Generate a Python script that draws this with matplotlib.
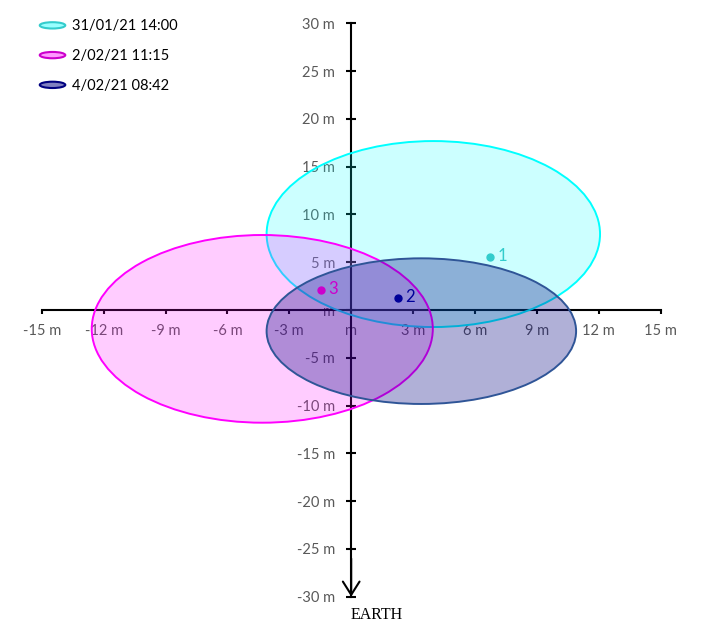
""" Position uncertainty ellipses for three fixes.
"""

import matplotlib
matplotlib.use('Agg')
import matplotlib.pyplot as plt
from matplotlib.patches import Ellipse, Patch
from matplotlib.legend_handler import HandlerPatch
from matplotlib.ticker import FuncFormatter, MultipleLocator


# uncertainty ellipses per fix, in metres (centre, full width, full height)
labels = ['31/01/21 14:00', '2/02/21 11:15', '4/02/21 08:42']
ell_x = [3.98, -4.31, 3.40]
ell_y = [7.95, -1.97, -2.21]
ell_w = [16.16, 16.53, 15.0]
ell_h = [19.46, 19.64, 15.24]

# numbered points
point_names = ['1', '2', '3']
point_x = [6.73, 2.25, -1.48]
point_y = [5.58, 1.29, 2.09]

edge_colors = ['#00FFFF', '#FF00FF', '#2F5597']
face_colors = [(0, 1, 1, 0.2), (1, 0, 1, 0.2), (0, 0, 0.5, 0.31)]
legend_edges = ['#33CCCC', '#CC00CC', '#000080']
legend_faces = ['#99FFFF', '#FF99FF', '#8080C0']
point_colors = ['#33CCCC', '#000099', '#CC00CC']

TICK_GREY = '#595959'


class HandlerEllipse(HandlerPatch):
    """ draw an ellipse as legend key """
    def create_artists(self, legend, orig_handle, xdescent, ydescent,
                       width, height, fontsize, trans):
        center = 0.5 * width - 0.5 * xdescent, 0.5 * height - 0.5 * ydescent
        patch = Ellipse(xy=center, width=width, height=height * 0.62)
        self.update_prop(patch, orig_handle, legend)
        patch.set_transform(trans)
        return [patch]


def metres(val, _pos):
    if abs(val) < 1e-9:
        return 'm'
    return f'{val:g} m'


plt.rcParams['font.family'] = ['Lato', 'DejaVu Sans']

fig = plt.figure(figsize=(7.01, 6.34), dpi=100)
ax = fig.add_axes([0.0595, 0.0588, 0.883, 0.9044])
ax.set_xlim(-15, 15)
ax.set_ylim(-30, 30)
ax.set_axisbelow(True)

for side in ('top', 'right'):
    ax.spines[side].set_visible(False)
ax.spines['left'].set_position('zero')
ax.spines['bottom'].set_position('zero')
for side in ('left', 'bottom'):
    ax.spines[side].set_linewidth(1.5)
    ax.spines[side].set_zorder(0.6)

ax.xaxis.set_major_locator(MultipleLocator(3))
ax.yaxis.set_major_locator(MultipleLocator(5))
ax.xaxis.set_major_formatter(FuncFormatter(metres))
ax.yaxis.set_major_formatter(FuncFormatter(metres))
ax.tick_params(axis='x', direction='out', length=3, width=1.5,
               pad=7, labelsize=10.5, labelcolor=TICK_GREY)
ax.tick_params(axis='y', direction='inout', length=7.5, width=1.5,
               pad=8, labelsize=10.5, labelcolor=TICK_GREY)

for i in range(len(labels)):
    ax.add_patch(Ellipse((ell_x[i], ell_y[i]), ell_w[i], ell_h[i],
                         facecolor=face_colors[i], edgecolor=edge_colors[i],
                         linewidth=1.4, zorder=3))

for i, name in enumerate(point_names):
    ax.plot(point_x[i], point_y[i], 'o', color=point_colors[i],
            markersize=5, zorder=5)
    ax.annotate(name, (point_x[i], point_y[i]), xytext=(5.5, 0.5),
                textcoords='offset points', ha='left', va='center',
                color=point_colors[i], fontsize=12, zorder=6)

# arrow pointing to earth
ax.annotate('', xy=(0, -30), xytext=(0, -26),
            arrowprops=dict(arrowstyle='->,head_length=0.95,head_width=0.6',
                            color='black', lw=1.5, shrinkA=0, shrinkB=0,
                            mutation_scale=10),
            annotation_clip=False)
ax.text(1.25, -31.9, 'EARTH', ha='center', va='center',
        family='Liberation Serif', fontsize=11.5, clip_on=False)

handles = [Patch(facecolor=legend_faces[i], edgecolor=legend_edges[i],
                 linewidth=1.5, label=labels[i]) for i in range(3)]
fig.legend(handles=handles, loc='upper left',
           bbox_to_anchor=(0.038, 0.99), frameon=False,
           fontsize=10.5, handlelength=1.75, handletextpad=0.45,
           labelspacing=1.08,
           handler_map={Patch: HandlerEllipse()})

fig.savefig('out.png', dpi=100)
